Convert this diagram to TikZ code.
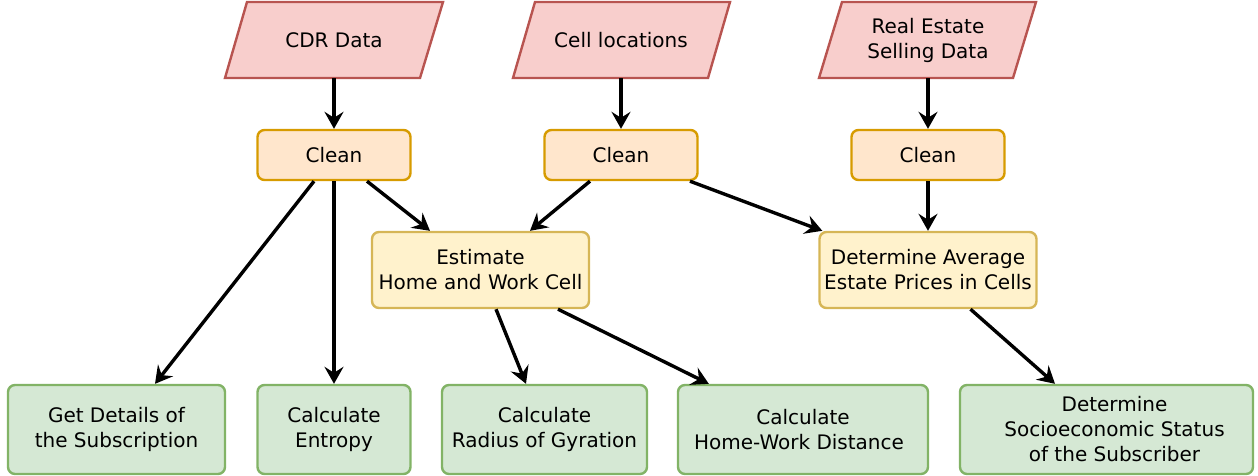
\documentclass[tikz,border=0pt]{standalone}
\usepackage{fontspec}
\setmainfont{DejaVu Sans}
\usetikzlibrary{arrows.meta}
\definecolor{redF}{HTML}{F8CECC}\definecolor{redD}{HTML}{B85450}
\definecolor{orgF}{HTML}{FFE6CC}\definecolor{orgD}{HTML}{D79B00}
\definecolor{yelF}{HTML}{FFF2CC}\definecolor{yelD}{HTML}{D6B656}
\definecolor{grnF}{HTML}{D5E8D4}\definecolor{grnD}{HTML}{82B366}
\begin{document}
\begin{tikzpicture}[x=1pt,y=-1pt,
  every node/.style={font=\fontsize{20}{25}\selectfont, align=center, inner sep=0pt},
  databox/.style={minimum width=195pt, minimum height=76pt},
  cleanbox/.style={draw=orgD, fill=orgF, line width=2.4pt, rounded corners=7pt, minimum width=153pt, minimum height=50pt},
  procbox/.style={draw=yelD, fill=yelF, line width=2.4pt, rounded corners=7pt, minimum width=217pt, minimum height=76pt},
  outbox/.style={draw=grnD, fill=grnF, line width=2.4pt, rounded corners=7pt, minimum height=89pt},
  para/.style={draw=redD, fill=redF, line width=2.4pt},
  flow/.style={line width=3.4pt, -{Stealth[length=17pt,width=19pt,inset=6pt]}}
]
\useasboundingbox (0,0) rectangle (1258,475);
% parallelograms
\draw[para] (247,2) -- (443,2) -- (420,78) -- (225,78) -- cycle;
\draw[para] (535,2) -- (730,2) -- (708,78) -- (513,78) -- cycle;
\draw[para] (842,2) -- (1036,2) -- (1013,78) -- (819,78) -- cycle;
\node[databox] (d1) at (334,40) {CDR Data};
\node[databox] (d2) at (621,40) {Cell locations};
\node[databox] (d3) at (928,40) {Real Estate\\Selling Data};
% clean
\node[cleanbox] (c1) at (334,155) {Clean};
\node[cleanbox] (c2) at (621,155) {Clean};
\node[cleanbox] (c3) at (928,155) {Clean};
% processing
\node[procbox] (est) at (480.5,270) {Estimate\\Home and Work Cell};
\node[procbox] (avg) at (928,270) {Determine Average\\Estate Prices in Cells};
% outputs
\node[outbox, minimum width=217pt] (gd) at (116.5,429.5) {Get Details of\\the Subscription};
\node[outbox, minimum width=153pt] (ent) at (334,429.5) {Calculate\\Entropy};
\node[outbox, minimum width=205pt] (rad) at (544.5,429.5) {Calculate\\Radius of Gyration};
\node[outbox, minimum width=250pt] (hw) at (803,429.5) {Calculate\\Home-Work Distance\hspace*{8pt}};
\node[outbox, minimum width=293pt] (soc) at (1106.5,429.5) {\hspace*{16pt}Determine\\\hspace*{16pt}Socioeconomic Status\\\hspace*{16pt}of the Subscriber};
% connectors
\draw[flow] (d1.south) -- (c1.north);
\draw[flow] (d2.south) -- (c2.north);
\draw[flow] (d3.south) -- (c3.north);
\draw[flow] ([xshift=-20pt]c1.south) -- ([xshift=38.5pt]gd.north);
\draw[flow] (c1.south) -- (ent.north);
\draw[flow] ([xshift=33pt]c1.south) -- ([xshift=-50.5pt]est.north);
\draw[flow] ([xshift=-31pt]c2.south) -- ([xshift=49.5pt]est.north);
\draw[flow] ([xshift=69pt]c2.south) -- ([xshift=4pt]avg.north west);
\draw[flow] (c3.south) -- (avg.north);
\draw[flow] ([xshift=15.5pt]est.south) -- ([xshift=-18.5pt]rad.north);
\draw[flow] ([xshift=77.5pt]est.south) -- ([xshift=32pt]hw.north west);
\draw[flow] ([xshift=42.5pt]avg.south) -- ([xshift=-51.5pt]soc.north);
\end{tikzpicture}
\end{document}
